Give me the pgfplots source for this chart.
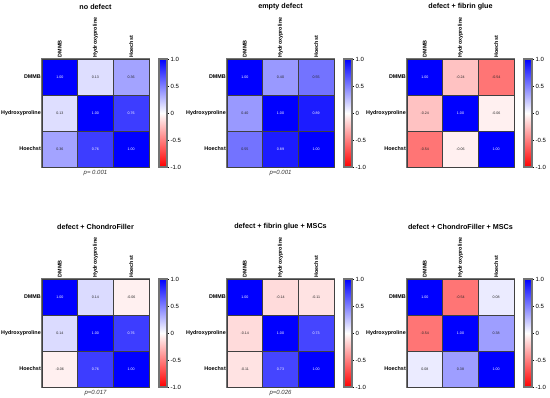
\documentclass[border=0pt]{standalone}
\usepackage{pgfplots}
\pgfplotsset{compat=1.18}
\usepackage{pgfplotstable}
\usepackage{fontspec}
\setmainfont{Liberation Sans}

\pgfplotstableread{
x y c
0 0 1.00
1 0 0.13
2 0 0.36
0 1 0.13
1 1 1.00
2 1 0.76
0 2 0.36
1 2 0.76
2 2 1.00
}\tA
\pgfplotstableread{
x y c
0 0 1.00
1 0 0.40
2 0 0.55
0 1 0.40
1 1 1.00
2 1 0.89
0 2 0.55
1 2 0.89
2 2 1.00
}\tB
\pgfplotstableread{
x y c
0 0 1.00
1 0 -0.24
2 0 -0.54
0 1 -0.24
1 1 1.00
2 1 -0.06
0 2 -0.54
1 2 -0.06
2 2 1.00
}\tC
\pgfplotstableread{
x y c
0 0 1.00
1 0 0.14
2 0 -0.06
0 1 0.14
1 1 1.00
2 1 0.76
0 2 -0.06
1 2 0.76
2 2 1.00
}\tD
\pgfplotstableread{
x y c
0 0 1.00
1 0 -0.14
2 0 -0.11
0 1 -0.14
1 1 1.00
2 1 0.73
0 2 -0.11
1 2 0.73
2 2 1.00
}\tE
\pgfplotstableread{
x y c
0 0 1.00
1 0 -0.54
2 0 0.08
0 1 -0.54
1 1 1.00
2 1 0.38
0 2 0.08
1 2 0.38
2 2 1.00
}\tF

\newcommand\celllabel{%
  \pgfmathfloatparsenumber{\pgfplotspointmeta}%
  \pgfmathfloattofixed{\pgfmathresult}%
  \ifdim\pgfmathresult pt>0.7pt\color{white}\else\color{black!85}\fi
  \pgfmathprintnumber[fixed,fixed zerofill,precision=2,assume math mode=true]{\pgfplotspointmeta}}

\pgfplotsset{
 rwbmap/.style={colormap={rwb}{rgb255=(255,0,0) rgb255=(255,255,255) rgb255=(0,0,255)},
  point meta min=-1, point meta max=1},
 panel/.style={
  rwbmap,
  scale only axis, width=107pt, height=108pt,
  xmin=-0.5, xmax=2.5, ymin=-0.5, ymax=2.5, y dir=reverse,
  xtick={0,1,2}, ytick={0,1,2},
  xticklabels={DMMB,Hydroxyproline,Hoechst},
  yticklabels={DMMB,Hydroxyproline,Hoechst},
  xticklabel pos=upper,
  xticklabel style={rotate=90, anchor=west, font=\bfseries\fontsize{5.4}{6}\selectfont, inner sep=1.5pt},
  yticklabel style={font=\bfseries\fontsize{5.4}{6}\selectfont, inner sep=1pt},
  major tick length=0pt,
  axis line style={draw=black!55, line width=1.3pt},
  axis on top,
  title style={at={(0.5,1)}, anchor=center, yshift=46pt, font=\bfseries\fontsize{7.2}{8}\selectfont},
 },
 cbar/.style={
  rwbmap, scale only axis, width=8pt, height=108pt,
  xmin=0, xmax=1, ymin=-1, ymax=1,
  xtick=\empty,
  ytick={-1,-0.5,0,0.5,1}, yticklabels={-1.0,-0.5,0,0.5,1.0},
  yticklabel pos=right, ytick pos=right,
  yticklabel style={font=\fontsize{6}{7}\selectfont, inner sep=1.5pt},
  axis line style={draw=black!55, line width=1.2pt},
  tick align=outside, major tick length=2pt, tick style={black, line width=0.4pt},
  axis on top,
 },
 cells/.style={scatter, only marks, mark=square*, mark size=17.85pt,
   scatter/use mapped color={draw=black!75, fill=mapped color}, line width=0.6pt,
   point meta=explicit},
 labs/.style={only marks, mark=none, point meta=explicit,
   nodes near coords={\celllabel},
   nodes near coords style={anchor=center, font=\fontsize{3.6}{4}\selectfont}},
 grad/.style={surf, shader=interp, mesh/rows=3, point meta=y, mark=none},
}

\begin{document}
\begin{tikzpicture}
\useasboundingbox (0,0) rectangle (550pt,-398pt);
\begin{axis}[panel, at={(42pt,-59pt)}, anchor=north west, title={no defect}]
\addplot[cells] table[x=x,y=y,meta=c] {\tA};
\addplot[labs] table[x=x,y=y,meta=c] {\tA};
\end{axis}
\begin{axis}[panel, at={(227pt,-59pt)}, anchor=north west, title={empty defect}]
\addplot[cells] table[x=x,y=y,meta=c] {\tB};
\addplot[labs] table[x=x,y=y,meta=c] {\tB};
\end{axis}
\begin{axis}[panel, at={(407pt,-59pt)}, anchor=north west, title={defect + fibrin glue}]
\addplot[cells] table[x=x,y=y,meta=c] {\tC};
\addplot[labs] table[x=x,y=y,meta=c] {\tC};
\end{axis}
\begin{axis}[panel, at={(42pt,-279pt)}, anchor=north west, title={defect + ChondroFiller}]
\addplot[cells] table[x=x,y=y,meta=c] {\tD};
\addplot[labs] table[x=x,y=y,meta=c] {\tD};
\end{axis}
\begin{axis}[panel, at={(227pt,-279pt)}, anchor=north west, title={defect + fibrin glue + MSCs}]
\addplot[cells] table[x=x,y=y,meta=c] {\tE};
\addplot[labs] table[x=x,y=y,meta=c] {\tE};
\end{axis}
\begin{axis}[panel, at={(407pt,-279pt)}, anchor=north west, title={defect + ChondroFiller + MSCs}]
\addplot[cells] table[x=x,y=y,meta=c] {\tF};
\addplot[labs] table[x=x,y=y,meta=c] {\tF};
\end{axis}
\begin{axis}[cbar, at={(159pt,-59pt)}, anchor=north west]
\addplot[grad] coordinates {(0,-1) (1,-1) (0,0) (1,0) (0,1) (1,1)};
\end{axis}
\begin{axis}[cbar, at={(344pt,-59pt)}, anchor=north west]
\addplot[grad] coordinates {(0,-1) (1,-1) (0,0) (1,0) (0,1) (1,1)};
\end{axis}
\begin{axis}[cbar, at={(524pt,-59pt)}, anchor=north west]
\addplot[grad] coordinates {(0,-1) (1,-1) (0,0) (1,0) (0,1) (1,1)};
\end{axis}
\begin{axis}[cbar, at={(159pt,-279pt)}, anchor=north west]
\addplot[grad] coordinates {(0,-1) (1,-1) (0,0) (1,0) (0,1) (1,1)};
\end{axis}
\begin{axis}[cbar, at={(344pt,-279pt)}, anchor=north west]
\addplot[grad] coordinates {(0,-1) (1,-1) (0,0) (1,0) (0,1) (1,1)};
\end{axis}
\begin{axis}[cbar, at={(524pt,-279pt)}, anchor=north west]
\addplot[grad] coordinates {(0,-1) (1,-1) (0,0) (1,0) (0,1) (1,1)};
\end{axis}
\begin{scope}[every node/.style={font=\itshape\fontsize{6}{7}\selectfont, text=black!80}]
\node at (95.5pt,-173pt) {p= 0.001};
\node at (280.5pt,-173pt) {p=0.001};
\node at (95.5pt,-393pt) {p=0.017};
\node at (280.5pt,-393pt) {p=0.026};
\end{scope}
\end{tikzpicture}
\end{document}
